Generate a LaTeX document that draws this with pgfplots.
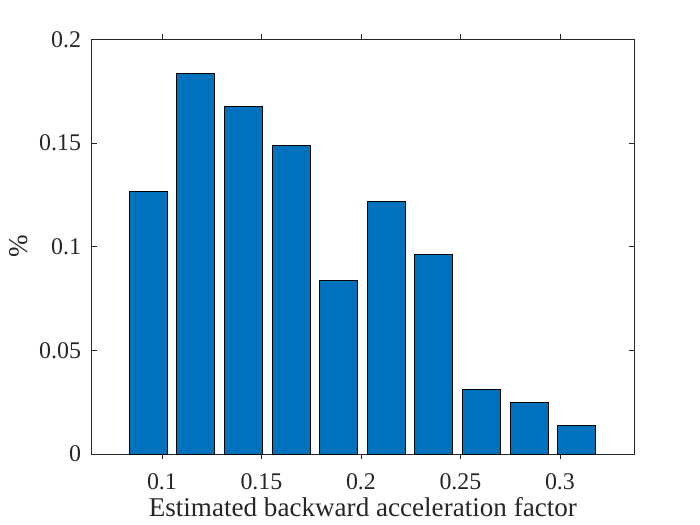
\documentclass[border=0pt]{standalone}
\usepackage{fontspec}
\setmainfont{Liberation Serif}
\usepackage{pgfplots}
\pgfplotsset{compat=1.18}
\definecolor{mblue}{RGB}{0,114,189}
\definecolor{mgray}{RGB}{38,38,38}
\begin{document}
\begin{tikzpicture}
\path[use as bounding box] (-91.7bp,-71bp) rectangle (608.3bp,454bp);
\begin{axis}[
  at={(0,0)}, anchor=south west,
  scale only axis,
  width=542.3bp, height=414.7bp,
  xmin=0.0647, xmax=0.3372, ymin=0, ymax=0.2,
  xtick={0.1,0.15,0.2,0.25,0.3},
  ytick={0,0.05,0.1,0.15,0.2},
  xticklabels={0.1,0.15,0.2,0.25,0.3},
  yticklabels={0,0.05,0.1,0.15,0.2},
  tick align=inside, tick pos=both,
  major tick length=5bp,
  axis line style={mgray, line width=0.6bp},
  every tick/.style={mgray, line width=0.6bp},
  /pgf/number format/assume math mode=true,
  ticklabel style={font=\fontsize{24}{28}\selectfont, text=mgray, inner sep=0pt},
  yticklabel style={anchor=east, xshift=-10.5bp},
  xticklabel style={anchor=north, yshift=-14bp},
  xlabel={Estimated backward acceleration factor},
  ylabel={\%},
  label style={font=\fontsize{27.2}{31}\selectfont, text=mgray, inner sep=0pt},
  xlabel style={at={(axis description cs:0.5,0)}, anchor=base, yshift=-62.7bp},
  ylabel style={at={(axis description cs:0,0.5)}, anchor=center, yshift=73bp},
  ybar, bar width=0.0191, bar shift=0pt,
  clip=false,
]
\addplot[fill=mblue, draw=black, line width=0.7bp] coordinates {
  (0.0931,0.1265) (0.1170,0.1836) (0.1409,0.1677) (0.1649,0.1489)
  (0.1888,0.0838) (0.2127,0.1217) (0.2366,0.0963) (0.2605,0.0310)
  (0.2845,0.0247) (0.3084,0.0138)
};
\end{axis}
\end{tikzpicture}
\end{document}
